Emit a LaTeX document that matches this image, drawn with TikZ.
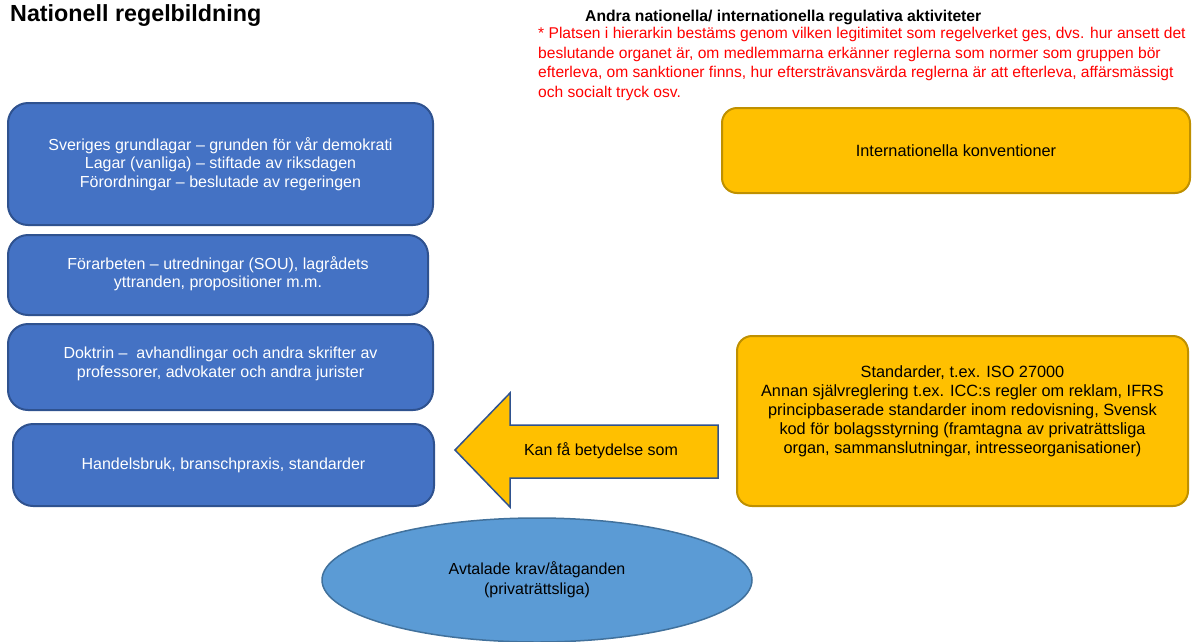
\documentclass[tikz,border=0pt]{standalone}
\usepackage{fontspec}
\setmainfont{Liberation Sans}
\usepackage{xcolor}
\usepackage{tikz}
\usetikzlibrary{shapes, arrows}
\definecolor{boxblue}{HTML}{4472C4}
\definecolor{boxblueline}{HTML}{2F528F}
\definecolor{boxyellow}{HTML}{FFC000}
\definecolor{boxyellowline}{HTML}{BF9000}
\definecolor{ovalblue}{HTML}{5B9BD5}
\definecolor{ovalblueline}{HTML}{41719C}
\tikzstyle{bluebox} = [rectangle, draw=boxblueline, fill=boxblue, line width=2pt, rounded corners=20pt, text=white, text centered, align=center, font=\fontsize{16}{18.7}\selectfont]
\tikzstyle{yellowbox} = [rectangle, draw=boxyellowline, fill=boxyellow, line width=2pt, rounded corners=15pt, text centered, align=center, font=\fontsize{16.3}{19}\selectfont]
\tikzstyle{oval} = [ellipse, draw=ovalblueline, fill=ovalblue, line width=1.5pt, text centered, align=center, font=\fontsize{16}{20}\selectfont]
\tikzstyle{bigarrow} = [draw=boxblueline, fill=boxyellow, line width=1.5pt]

\begin{document}
\begin{tikzpicture}[x=1pt, y=-1pt]
        \useasboundingbox (0,0) rectangle (1202,641);

        \node [anchor=west, inner sep=0pt, font=\fontsize{23.3}{26}\selectfont\bfseries] at (10,16) (titel) {Nationell regelbildning};

        \node [anchor=west, inner sep=0pt, font=\fontsize{15.7}{18}\selectfont\bfseries] at (585,17) (andra) 
        {Andra nationella/ internationella regulativa aktiviteter};

        \node [anchor=north west, inner sep=0pt, text=red, align=left, font=\fontsize{15.6}{19.7}\selectfont] at (538,27) (platsen) 
        {* Platsen i hierarkin bestäms genom vilken legitimitet som regelverket ges, dvs. hur ansett det\\
        beslutande organet är, om medlemmarna erkänner reglerna som normer som gruppen bör\\
        efterleva, om sanktioner finns, hur eftersträvansvärda reglerna är att efterleva, affärsmässigt\\
        och socialt tryck osv.};

        \node [bluebox, minimum width=425, minimum height=122] at (220.5,164) (grundlagar) 
        {Sveriges grundlagar -- grunden för vår demokrati\\
        Lagar (vanliga) -- stiftade av riksdagen\\
        Förordningar -- beslutade av regeringen};

        \node [bluebox, minimum width=420, minimum height=80] at (218,275) (forarbeten) 
        {Förarbeten -- utredningar (SOU), lagrådets\\ yttranden, propositioner m.m.\\[-13pt]\mbox{}};

        \node [bluebox, minimum width=425, minimum height=86] at (220.5,367) (doktrin) 
        {Doktrin --\ \ avhandlingar och andra skrifter av\\ professorer, advokater och andra jurister\\[-9pt]\mbox{}};

        \node [bluebox, minimum width=421, minimum height=82] at (223.5,465) (handel) 
        {Handelsbruk, branschpraxis, standarder};

        \node [yellowbox, minimum width=468, minimum height=85] at (956,150.5) (konventioner) 
        {Internationella konventioner};

        \node [yellowbox, minimum width=451, minimum height=170] at (962.5,421) (standarder) 
        {Standarder, t.ex. ISO 27000\\
        Annan självreglering t.ex. ICC:s regler om reklam, IFRS\\
        principbaserade standarder inom redovisning, Svensk\\
        kod för bolagsstyrning (framtagna av privaträttsliga\\
        organ, sammanslutningar, intresseorganisationer)\\[3pt]\mbox{}};

        \node [oval, minimum width=430, minimum height=124] at (537,580) (avtal) 
        {Avtalade krav/åtaganden\\ (privaträttsliga)};

        \path [bigarrow] (718,425) -- (510,425) -- (510,393) -- (455,450) 
            -- (510,507) -- (510,478) -- (718,478) -- cycle;
        \node [font=\fontsize{16}{19}\selectfont] at (601,451) (betydelse) {Kan få betydelse som};
    \end{tikzpicture}
\end{document}
